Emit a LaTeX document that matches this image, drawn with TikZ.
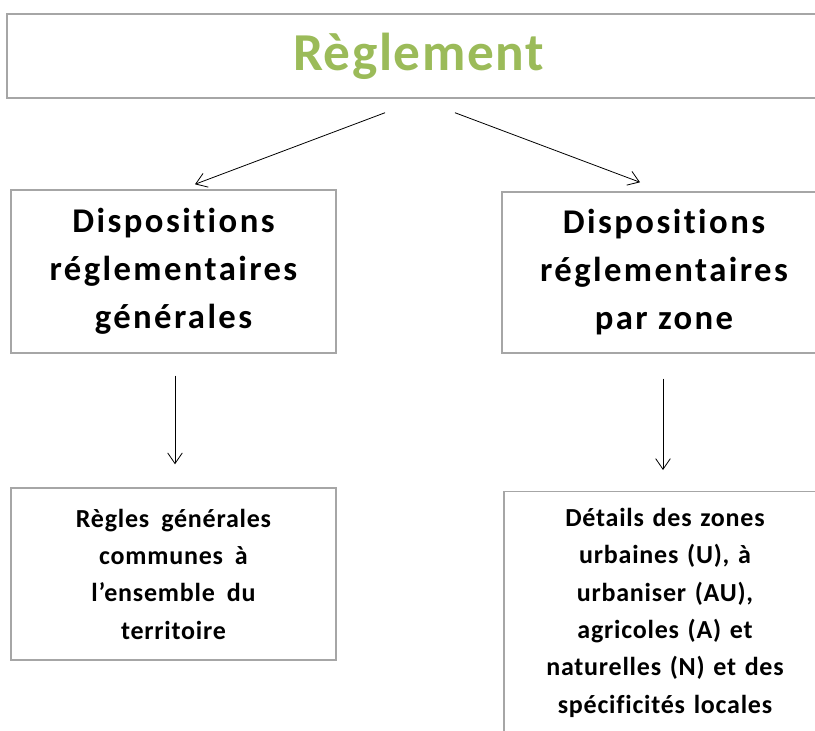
\documentclass[tikz,border=0pt]{standalone}
\usepackage{fontspec}
\setmainfont{Carlito}[Ligatures=NoCommon]
\newfontfamily\widefont[LetterSpace=3,WordSpace=1.8,Ligatures=NoCommon]{Carlito}
\usetikzlibrary{arrows.meta}
\definecolor{titlegreen}{HTML}{9BBB59}
\definecolor{boxgray}{HTML}{A6A6A6}

\begin{document}
\begin{tikzpicture}[x=0.75pt,y=-0.75pt, >={Straight Barb[length=8pt,width=11pt]},
        box/.style={draw=boxgray, line width=1.1pt, align=center, inner sep=0pt},
        big/.style={font=\fontsize{26}{36}\selectfont\bfseries\addfontfeature{LetterSpace=7}},
        small/.style={font=\widefont\fontsize{19.5}{28}\selectfont\bfseries}]
        \useasboundingbox (0,0) rectangle (815,731);
        \clip (0,0) rectangle (815,731);
        % boxes
        \node[box, minimum width=617pt, minimum height=63pt, text=titlegreen,
              font=\fontsize{40}{46}\selectfont\bfseries\addfontfeature{LetterSpace=3}] (reglement) at (418.5,56) {Règlement};
        \node[box, big, minimum width=243.75pt, minimum height=122.25pt] (generales) at (173.5,271.5)
              {Dispositions\\réglementaires\\générales};
        \node[box, big, minimum width=243pt, minimum height=120.75pt] (parzone) at (664,272.5)
              {Dispositions\\réglementaires\\par zone};
        \node[box, small, minimum width=243.75pt, minimum height=129pt] (communes) at (173.5,574)
              {Règles générales\\communes à\\l’ensemble du\\territoire};
        \node[box, small, anchor=north, text width=241.5pt, inner ysep=12.5pt, text depth=150pt] (zones) at (665,491)
              {Détails des zones\\urbaines (U), à\\urbaniser (AU),\\agricoles (A) et\\naturelles (N) et des\\spécificités locales};
        % arrows
        \draw[->, line width=0.6pt] ([shift={(-33.5,14)}]reglement.south) -- ([shift={(21.5,-5)}]generales.north);
        \draw[->, line width=0.6pt] ([shift={(36.5,14)}]reglement.south) -- ([shift={(-24,-9)}]parzone.north);
        \draw[->, line width=0.6pt] ([shift={(1.5,22)}]generales.south) -- ([shift={(1.5,-23)}]communes.north);
        \draw[->, line width=0.6pt] ([shift={(-1,25)}]parzone.south) -- ([shift={(-2,-21)}]zones.north);
\end{tikzpicture}
\end{document}
